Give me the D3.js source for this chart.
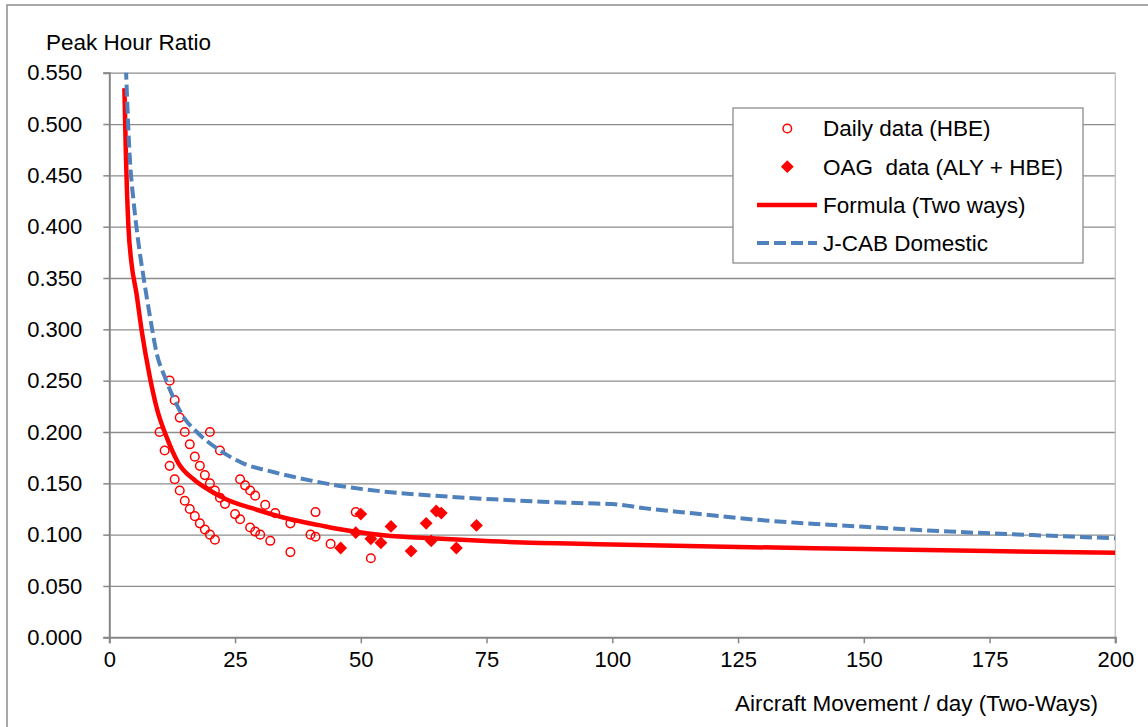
<!DOCTYPE html>
<html>
<head>
<meta charset="utf-8">
<script src="https://cdn.jsdelivr.net/npm/d3@7"></script>
<style>
  body { margin: 0; background: #fff; }
  svg text { font-family: "Liberation Sans", Arial, sans-serif; fill: #000; white-space: pre; }
</style>
</head>
<body>
<div id="chart"></div>
<script>
// Daily data (HBE)
const dailyX = [10, 11, 12, 13, 14, 15, 16, 17, 18, 19, 20, 21,
  12, 13, 14, 15, 16, 17, 18, 19, 20, 21, 22, 23,
  25, 26, 28, 29, 30, 32, 36,
  20, 22, 26, 27, 28, 29, 31, 33, 36, 40, 41, 44, 52,
  41, 49];
const dailyY = [0.200, 0.182, 0.167, 0.154, 0.143, 0.133, 0.125, 0.118, 0.111, 0.105, 0.100, 0.095,
  0.250, 0.231, 0.214, 0.200, 0.188, 0.176, 0.167, 0.158, 0.150, 0.143, 0.136, 0.130,
  0.120, 0.115, 0.107, 0.103, 0.100, 0.094, 0.083,
  0.200, 0.182, 0.154, 0.148, 0.143, 0.138, 0.129, 0.121, 0.111, 0.100, 0.098, 0.091, 0.077,
  0.122, 0.122];

// OAG data (ALY + HBE)
const oagX = [46, 49, 50, 52, 54, 56, 60, 63, 64, 65, 66, 69, 73];
const oagY = [0.087, 0.102, 0.120, 0.096, 0.092, 0.108, 0.084, 0.111, 0.094, 0.123, 0.121, 0.087, 0.109];

// Formula (Two ways)
const formulaX = [3, 3.3, 3.8, 4.4, 5.4, 6.4, 8, 9.5, 11.4, 13.7, 17, 20, 23, 29.5, 36, 42, 45, 54.5, 65, 76, 100, 125, 150, 175, 200];
const formulaY = [0.535, 0.470, 0.400, 0.365, 0.335, 0.300, 0.255, 0.222, 0.195, 0.170, 0.153, 0.143, 0.135, 0.124, 0.115, 0.109, 0.106, 0.0995, 0.0962, 0.0935, 0.0905, 0.0880, 0.0860, 0.0840, 0.0824];

// J-CAB Domestic
const jcabX = [3.3, 4.1, 4.8, 5.8, 6.8, 8.1, 9.5, 11, 12.7, 14.7, 17.4, 22, 26.6, 32.6, 41.2, 44, 54.5, 65.7, 76.5, 86, 95, 100, 106.6, 116, 127, 138.5, 150, 161, 172, 183.5, 200];
const jcabY = [0.555, 0.465, 0.426, 0.384, 0.351, 0.312, 0.275, 0.254, 0.234, 0.215, 0.200, 0.182, 0.1695, 0.161, 0.1516, 0.149, 0.142, 0.1376, 0.1344, 0.1321, 0.1305, 0.1298, 0.1256, 0.1208, 0.1152, 0.111, 0.1077, 0.1045, 0.1019, 0.0996, 0.0964];

const yTicks = [0, 0.05, 0.1, 0.15, 0.2, 0.25, 0.3, 0.35, 0.4, 0.45, 0.5, 0.55];
const xTicks = [0, 25, 50, 75, 100, 125, 150, 175, 200];

const legendItems = ["Daily data (HBE)", "OAG  data (ALY + HBE)", "Formula (Two ways)", "J-CAB Domestic"];

const W = 1148, H = 727;
const RED = "#ff0000", BLUE = "#4f81bd";
const FONT = "22px";

const svg = d3.select("#chart").append("svg")
  .attr("width", W).attr("height", H);

// chart frame
svg.append("rect")
  .attr("x", 7).attr("y", 5).attr("width", W + 20).attr("height", H + 20)
  .attr("fill", "#fff").attr("stroke", "#8c8c8c").attr("stroke-width", 1.5);

const x = d3.scaleLinear().domain([0, 200]).range([109.3, 1115.3]);
const y = d3.scaleLinear().domain([0, 0.55]).range([637.3, 72.7]);

// gridlines
svg.append("g")
  .attr("transform", `translate(${x(0)},0)`)
  .call(d3.axisLeft(y).tickValues(yTicks.slice(1)).tickSize(-(x(200) - x(0))).tickFormat(""))
  .call(g => g.select(".domain").remove())
  .call(g => g.selectAll("line").attr("stroke", "#8c8c8c").attr("stroke-width", 1.3));

// right border line at 200
svg.append("line")
  .attr("x1", x(200)).attr("x2", x(200))
  .attr("y1", y(0.55)).attr("y2", y(0) + 6)
  .attr("stroke", "#c0c0c0").attr("stroke-width", 1.3);

// y axis
const yAxis = svg.append("g")
  .attr("transform", `translate(${x(0)},0)`)
  .call(d3.axisLeft(y).tickValues(yTicks).tickSize(6).tickPadding(21).tickFormat(d3.format(".3f")));
yAxis.select(".domain").attr("stroke", "#868686").attr("stroke-width", 2);
yAxis.selectAll("line").attr("stroke", "#868686").attr("stroke-width", 1.5);
yAxis.selectAll("text").style("font-size", FONT).style("font-family", "'Liberation Sans', Arial, sans-serif").attr("fill", "#000");

// x axis
const xAxis = svg.append("g")
  .attr("transform", `translate(0,${y(0)})`)
  .call(d3.axisBottom(x).tickValues(xTicks).tickSize(6).tickPadding(8));
xAxis.select(".domain").attr("stroke", "#868686").attr("stroke-width", 2);
xAxis.selectAll("line").attr("stroke", "#868686").attr("stroke-width", 1.5);
xAxis.selectAll("text").style("font-size", FONT).style("font-family", "'Liberation Sans', Arial, sans-serif").attr("fill", "#000");

// axis titles
svg.append("text").attr("x", 46).attr("y", 50)
  .style("font-size", "22.5px").text("Peak Hour Ratio");
svg.append("text").attr("x", 1098).attr("y", 711).attr("text-anchor", "end")
  .style("font-size", "22.5px").text("Aircraft Movement / day (Two-Ways)");

// clip
svg.append("clipPath").attr("id", "plot")
  .append("rect").attr("x", x(0)).attr("y", y(0.55)).attr("width", x(200) - x(0)).attr("height", y(0) - y(0.55));

const plot = svg.append("g").attr("clip-path", "url(#plot)");

const diamond = d3.symbol().type(d3.symbolDiamond2).size(105);

// daily data
plot.append("g").selectAll("circle")
  .data(dailyX.map((d, i) => [d, dailyY[i]]))
  .join("circle")
  .attr("cx", d => x(d[0])).attr("cy", d => y(d[1])).attr("r", 4.3)
  .attr("fill", "none").attr("stroke", RED).attr("stroke-width", 1.5);

// OAG data
plot.append("g").selectAll("path")
  .data(oagX.map((d, i) => [d, oagY[i]]))
  .join("path")
  .attr("d", diamond)
  .attr("transform", d => `translate(${x(d[0])},${y(d[1])})`)
  .attr("fill", RED);

const line = d3.line().x(d => x(d[0])).y(d => y(d[1])).curve(d3.curveMonotoneX);

plot.append("path")
  .datum(formulaX.map((d, i) => [d, formulaY[i]]))
  .attr("d", line)
  .attr("fill", "none").attr("stroke", RED).attr("stroke-width", 4.5);

plot.append("path")
  .datum(jcabX.map((d, i) => [d, jcabY[i]]))
  .attr("d", line)
  .attr("fill", "none").attr("stroke", BLUE).attr("stroke-width", 4)
  .attr("stroke-dasharray", "12,5");

// legend
const lg = svg.append("g");
lg.append("rect").attr("x", 733).attr("y", 108).attr("width", 350).attr("height", 155)
  .attr("fill", "#fff").attr("stroke", "#8c8c8c").attr("stroke-width", 1.3);

const rowY = d => 128.5 + d * 38.2;
lg.selectAll("text").data(legendItems).join("text")
  .attr("x", 823).attr("y", (d, i) => rowY(i) + 7.8)
  .attr("xml:space", "preserve")
  .style("font-size", "22.5px").text(d => d);

lg.append("circle").attr("cx", 787.3).attr("cy", rowY(0)).attr("r", 4.3)
  .attr("fill", "none").attr("stroke", RED).attr("stroke-width", 1.5);
lg.append("path").attr("d", diamond).attr("transform", `translate(787.3,${rowY(1)})`).attr("fill", RED);
lg.append("line").attr("x1", 757).attr("x2", 817).attr("y1", rowY(2)).attr("y2", rowY(2))
  .attr("stroke", RED).attr("stroke-width", 4.5);
lg.append("line").attr("x1", 757).attr("x2", 817).attr("y1", rowY(3)).attr("y2", rowY(3))
  .attr("stroke", BLUE).attr("stroke-width", 4).attr("stroke-dasharray", "12,5");
</script>
</body>
</html>
